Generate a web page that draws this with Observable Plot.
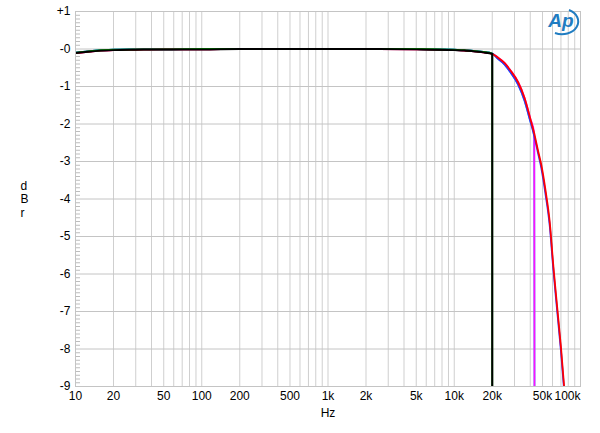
<!DOCTYPE html>
<html>
<head>
<meta charset="utf-8">
<script src="https://cdn.jsdelivr.net/npm/d3@7"></script>
<script src="https://cdn.jsdelivr.net/npm/@observablehq/plot@0.6"></script>
<style>
  html, body { margin: 0; padding: 0; background: #fff; }
  #chart { width: 600px; height: 433px; }
  svg { font-family: "Liberation Sans", Arial, sans-serif; }
</style>
</head>
<body>
<div id="chart"></div>
<script>
// ---- data ----
const passFreq  = [10, 12, 15, 20, 30, 50, 100, 200, 500, 1000, 2000, 5000, 10000, 12000, 15000, 17000, 20000];
const blackVals = [-0.11, -0.08, -0.05, -0.03, -0.02, -0.01, -0.01, 0, 0, 0, 0, -0.01, -0.03, -0.04, -0.07, -0.09, -0.13];
const greenVals = [-0.10, -0.07, -0.04, -0.02, -0.01, -0.01, 0, 0, 0, 0, 0, 0, -0.02, -0.03, -0.06, -0.08, -0.12];
const blackDrop = [20001, -12];

const rollFreqA = [22000, 25000, 28000, 32000, 36000, 40000, 43000];
const magentaRoll = [-0.22, -0.37, -0.58, -0.88, -1.30, -1.85, -2.25];
const cyanRoll    = [-0.25, -0.41, -0.63, -0.94, -1.37, -1.92, -2.32];
const magentaDrop = [43300, -12];

const rollFreqB = [46000, 49000, 53000, 57000, 61000, 65000, 70000, 75000];
const redRoll   = [-2.70, -3.10, -3.80, -4.60, -5.80, -6.80, -7.95, -9.20];
const blueRoll  = [-2.76, -3.18, -3.90, -4.70, -5.90, -6.90, -8.05, -9.30];

const xTicks = [10, 20, 50, 100, 200, 500, 1000, 2000, 5000, 10000, 20000, 50000];
const xLastTick = [100000];
const yTicks = [1, 0, -1, -2, -3, -4, -5, -6, -7, -8, -9];
const yTickLabels = ["+1", "-0", "-1", "-2", "-3", "-4", "-5", "-6", "-7", "-8", "-9"];

// ---- build tables ----
const rows = (fs, vs) => fs.map((f, i) => ({f, v: vs[i]}));
const blackData = [...rows(passFreq, blackVals), {f: blackDrop[0], v: blackDrop[1]}];
const greenData = [...rows(passFreq, greenVals), {f: blackDrop[0], v: blackDrop[1]}];
const magentaData = [...rows(passFreq, blackVals), ...rows(rollFreqA, magentaRoll), {f: magentaDrop[0], v: magentaDrop[1]}];
const cyanData = [...rows(passFreq, greenVals), ...rows(rollFreqA, cyanRoll), {f: magentaDrop[0], v: magentaDrop[1]}];
const redData = [...rows(passFreq, blackVals), ...rows(rollFreqA, magentaRoll), ...rows(rollFreqB, redRoll)];
const blueData = [...rows(passFreq, greenVals), ...rows(rollFreqA, cyanRoll), ...rows(rollFreqB, blueRoll)];

const gridX = [];
for (let d = 10; d < 100000; d *= 10) for (let k = 1; k <= 9; k++) gridX.push(d * k);
gridX.push(100000);
const minorY = [];
for (let i = -90; i <= 10; i++) if (i % 10 !== 0) minorY.push(i / 10);

const fmtHz = d => d >= 1000 ? (d / 1000) + "k" : String(d);

const lineOpts = {x: "f", y: "v", strokeWidth: 1.8, clip: true, curve: "monotone-x"};
const txt = {fontSize: 12, fill: "#000"};

const chart = Plot.plot({
  width: 600,
  height: 433,
  marginLeft: 75,
  marginRight: 20,
  marginTop: 11,
  marginBottom: 47,
  style: {fontFamily: "Liberation Sans, Arial, sans-serif", fontSize: "12px", background: "#fff"},
  x: {type: "log", domain: [10, 100000], axis: null},
  y: {domain: [-9, 1], axis: null},
  marks: [
    Plot.ruleX(gridX, {x: d => d, stroke: "#cfcfcf", strokeWidth: 1}),
    Plot.ruleY(yTicks, {y: d => d, stroke: "#c4c4c4", strokeWidth: 1}),
    Plot.tickY(minorY, {y: d => d, insetRight: 500, stroke: "#bdbdbd", strokeWidth: 1}),
    Plot.text(yTicks, {y: d => d, frameAnchor: "left", dx: -5, textAnchor: "end", text: d => yTickLabels[yTicks.indexOf(d)], ...txt}),
    Plot.text(xTicks, {x: d => d, frameAnchor: "bottom", dy: 13.5, text: fmtHz, ...txt}),
    Plot.text(xLastTick, {x: d => d, frameAnchor: "bottom", dy: 13.5, textAnchor: "end", text: fmtHz, ...txt}),
    Plot.text(["Hz"], {frameAnchor: "bottom", dy: 30, ...txt}),
    Plot.text(["d\nB\nr"], {frameAnchor: "left", dx: -55, lineHeight: 1.15, ...txt}),
    Plot.line(cyanData, {...lineOpts, stroke: "#22c8f0"}),
    Plot.line(magentaData, {...lineOpts, stroke: "#ff10ff"}),
    Plot.line(blueData, {...lineOpts, stroke: "#3030ff"}),
    Plot.line(redData, {...lineOpts, stroke: "#ff0000"}),
    Plot.line(greenData, {...lineOpts, stroke: "#00a000"}),
    Plot.line(blackData, {...lineOpts, stroke: "#000000", strokeWidth: 2}),
    Plot.frame({stroke: "#c4c4c4"})
  ]
});

document.getElementById("chart").appendChild(chart);

// AP logo (decoration)
const svg = d3.select(chart);
const logo = svg.append("g").attr("transform", "translate(561,27)");
logo.append("path")
  .attr("d", "M -6 6 A 14 11 0 0 0 8 -17")
  .attr("fill", "none").attr("stroke", "#1f7cc1").attr("stroke-width", 2);
logo.append("text")
  .attr("text-anchor", "middle")
  .attr("font-family", "Liberation Sans, Arial, sans-serif")
  .attr("font-size", 19).attr("font-style", "italic").attr("font-weight", "bold")
  .attr("fill", "#1f7cc1")
  .text("Ap");
</script>
</body>
</html>
